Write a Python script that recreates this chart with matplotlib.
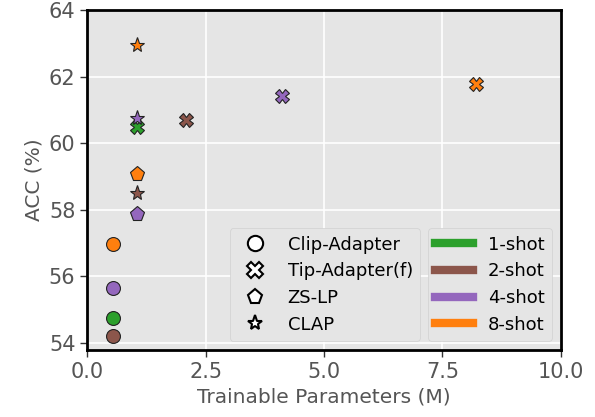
import matplotlib
matplotlib.use('Agg')
import matplotlib.pyplot as plt
from matplotlib.lines import Line2D

plt.style.use('ggplot')

# shots and their colours
shots = ["1-shot", "2-shot", "4-shot", "8-shot"]
shot_colors = ["tab:green", "tab:brown", "tab:purple", "tab:orange"]

methods = ["Clip-Adapter", "Tip-Adapter(f)", "ZS-LP", "CLAP"]
method_markers = ["o", "X", "p", "*"]

# (shot index, params M, acc %) per method
clip_shot = [0, 1, 2, 3]
clip_params = [0.54, 0.54, 0.54, 0.54]
clip_acc = [54.75, 54.2, 55.65, 56.96]

tip_shot = [0, 1, 2, 3]
tip_params = [1.04, 2.08, 4.12, 8.22]
tip_acc = [60.48, 60.68, 61.41, 61.78]

zslp_shot = [2, 3]
zslp_params = [1.04, 1.04]
zslp_acc = [57.88, 59.08]

clap_shot = [1, 2, 3]
clap_params = [1.04, 1.04, 1.04]
clap_acc = [58.5, 60.75, 62.96]

fig = plt.figure(figsize=(5.95, 4.17), dpi=100)
ax = fig.add_axes([0.1467, 0.161, 0.7956, 0.815])

groups = [(clip_shot, clip_params, clip_acc),
          (tip_shot, tip_params, tip_acc),
          (zslp_shot, zslp_params, zslp_acc),
          (clap_shot, clap_params, clap_acc)]
sizes = [10, 10, 11, 11]
for m, (s, px, acc) in enumerate(groups):
  for i in range(len(s)):
    ax.plot(px[i], acc[i], marker=method_markers[m], markersize=sizes[m],
            color=shot_colors[s[i]], markeredgecolor="#222222",
            markeredgewidth=0.8, linestyle="none", zorder=3)

ax.set_xlim(0, 10)
ax.set_ylim(53.78, 64)
ax.set_yticks([54, 56, 58, 60, 62, 64])
ax.set_xticks([0, 2.5, 5.0, 7.5, 10.0])
ax.grid(True, color="white", linewidth=1.2)
for sp in ax.spines.values():
  sp.set_visible(True)
  sp.set_color("black")
  sp.set_linewidth(2)

fs1 = 14.5
fs2 = 15
ax.set_xlabel("Trainable Parameters (M)", fontsize=fs1, color="#555555", labelpad=4)
ax.set_ylabel("ACC (%)", fontsize=fs1, color="#555555", labelpad=4)
ax.tick_params(axis="both", labelsize=fs2, labelcolor="#555555", color="#333333",
               length=5, width=1)

h1 = [Line2D([], [], marker=mk, color="black", markerfacecolor="white",
             markeredgecolor="black", markeredgewidth=1.5, markersize=11,
             linestyle="none") for mk in method_markers]
h2 = [Line2D([], [], color=c, linewidth=6) for c in shot_colors]

leg1 = ax.legend(h1, methods, loc="lower right", bbox_to_anchor=(0.722, 0.0),
                 fontsize=13, facecolor="#E5E5E5", edgecolor="#d0d0d0",
                 framealpha=1, handlelength=2, labelspacing=0.48,
                 borderaxespad=0.5)
ax.add_artist(leg1)
leg2 = ax.legend(h2, shots, loc="lower right", fontsize=13, facecolor="#E5E5E5",
                 edgecolor="#d0d0d0", framealpha=1, handlelength=2.1,
                 labelspacing=0.48)

fig.savefig("out.png", dpi=100)
